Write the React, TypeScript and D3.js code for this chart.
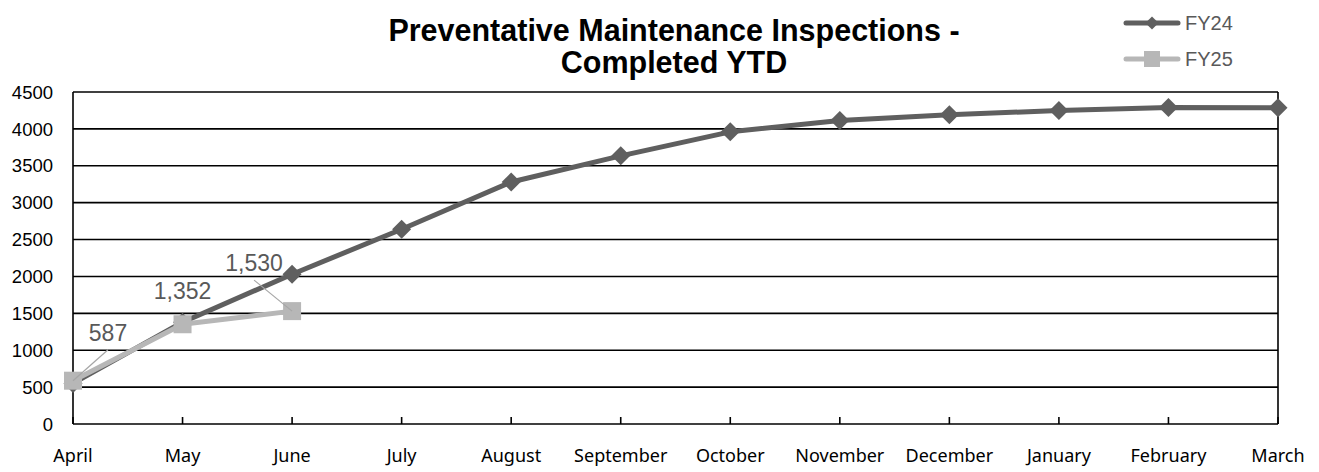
import * as d3 from "d3";

const months = ["April", "May", "June", "July", "August", "September", "October", "November", "December", "January", "February", "March"];
const fy24 = [550, 1380, 2030, 2640, 3280, 3635, 3960, 4115, 4190, 4250, 4290, 4285];
const fy25 = [587, 1352, 1530];
const fy25Labels = ["587", "1,352", "1,530"];
const yTicks = [0, 500, 1000, 1500, 2000, 2500, 3000, 3500, 4000, 4500];

const width = 1319;
const height = 472;
const marginLeft = 73;
const marginRight = 41;
const marginTop = 92;
const marginBottom = 48;

const dark = "#5f5f5f";
const light = "#b7b7b7";

export default function App() {
  const x = d3.scalePoint<string>().domain(months).range([marginLeft, width - marginRight]);
  const y = d3.scaleLinear().domain([0, 4500]).range([height - marginBottom, marginTop]);
  const line = d3.line<number>().x((d, i) => x(months[i])!).y(d => y(d));

  const diamond = d3.symbol().type(d3.symbolDiamond2).size(230)();
  const square = d3.symbol().type(d3.symbolSquare).size(324)();

  // label offsets from the point; 1,352 sits right above its point with no leader
  const labelOffsets = [[35, -48], [0, -34], [-38, -48]];

  return (
    <svg width={width} height={height} style={{ position: "absolute", left: 0, top: 0, background: "#fff" }}>
      <g>
        {yTicks.map(t => (
          <g key={t}>
            <line x1={marginLeft} x2={width - marginRight} y1={y(t)} y2={y(t)} stroke="#000" strokeWidth={1.6} />
            <text x={53} y={y(t)} dy="0.36em" textAnchor="end" fontFamily="Liberation Sans, Arial" fontSize={18.5} fill="#000">{t}</text>
          </g>
        ))}
        <line x1={marginLeft} x2={marginLeft} y1={y(0)} y2={y(4500)} stroke="#000" strokeWidth={1.6} />
        <line x1={width - marginRight} x2={width - marginRight} y1={y(0)} y2={y(4500)} stroke="#000" strokeWidth={1.6} />
        {months.map(m => (
          <g key={m}>
            <line x1={x(m)} x2={x(m)} y1={y(0)} y2={y(0) - 7} stroke="#000" strokeWidth={1.6} />
            <text x={x(m)} y={456} dy="0.36em" textAnchor="middle" fontFamily="Noto Sans, Inter" fontSize={18} fill="#000">{m}</text>
          </g>
        ))}
      </g>

      <path d={line(fy24)!} fill="none" stroke={dark} strokeWidth={5} strokeLinejoin="round" />
      {fy24.map((v, i) => (
        <path key={i} d={diamond!} transform={`translate(${x(months[i])},${y(v)})`} fill={dark} />
      ))}

      <path d={line(fy25)!} fill="none" stroke={light} strokeWidth={5} strokeLinejoin="round" />
      {fy25.map((v, i) => (
        <path key={i} d={square!} transform={`translate(${x(months[i])},${y(v)})`} fill={light} />
      ))}

      {fy25.map((v, i) => {
        const px = x(months[i])!;
        const py = y(v);
        const [dx, dy] = labelOffsets[i];
        return (
          <g key={i}>
            {i !== 1 && (
              <line x1={px} y1={py} x2={px + dx} y2={py + dy + 17} stroke="#a6a6a6" strokeWidth={1.2} />
            )}
            <text x={px + dx} y={py + dy} dy="0.36em" textAnchor="middle" fontFamily="Liberation Sans, Arial" fontSize={23} fill="#595959">{fy25Labels[i]}</text>
          </g>
        );
      })}

      <text x={674} y={30} dy="0.36em" textAnchor="middle" fontFamily="Liberation Sans, Arial" fontWeight="bold" fontSize={30.5} fill="#000">Preventative Maintenance Inspections -</text>
      <text x={674} y={62} dy="0.36em" textAnchor="middle" fontFamily="Liberation Sans, Arial" fontWeight="bold" fontSize={30.5} fill="#000">Completed YTD</text>

      <g>
        <line x1={1126} x2={1178} y1={23} y2={23} stroke={dark} strokeWidth={5} strokeLinecap="round" />
        <path d={d3.symbol().type(d3.symbolDiamond2).size(110)()!} transform="translate(1152,23)" fill={dark} />
        <text x={1185} y={23} dy="0.36em" fontFamily="Liberation Sans, Arial" fontSize={20} fill="#595959">FY24</text>
        <line x1={1126} x2={1178} y1={59} y2={59} stroke={light} strokeWidth={5} strokeLinecap="round" />
        <rect x={1144} y={51} width={16} height={16} fill={light} />
        <text x={1185} y={59} dy="0.36em" fontFamily="Liberation Sans, Arial" fontSize={20} fill="#595959">FY25</text>
      </g>
    </svg>
  );
}
